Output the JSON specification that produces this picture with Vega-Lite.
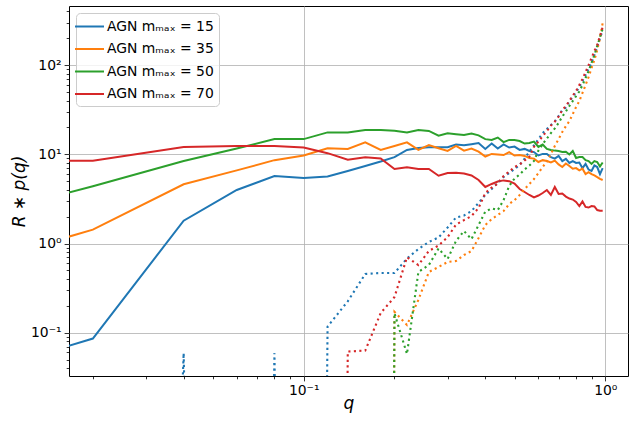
{
  "$schema": "https://vega.github.io/schema/vega-lite/v6.json",
  "autosize": {"type": "none"},
  "padding": {"left": 69, "top": 6, "right": 7, "bottom": 47},
  "width": 559,
  "height": 370,
  "datasets": {
    "solid": [
      {"m":15,"q":0.0166,"v":0.071},{"m":15,"q":0.02,"v":0.086},{"m":15,"q":0.04,"v":1.80},{"m":15,"q":0.06,"v":3.98},{"m":15,"q":0.08,"v":5.71},{"m":15,"q":0.10,"v":5.42},{"m":15,"q":0.12,"v":5.64},{"m":15,"q":0.14,"v":6.5},{"m":15,"q":0.16,"v":7.4},{"m":15,"q":0.18,"v":8.3},{"m":15,"q":0.20,"v":9.3},{"m":15,"q":0.22,"v":11.2},{"m":15,"q":0.24,"v":11.8},{"m":15,"q":0.26,"v":12.0},{"m":15,"q":0.28,"v":12.0},{"m":15,"q":0.30,"v":12.0},{"m":15,"q":0.32,"v":12.9},{"m":15,"q":0.34,"v":12.6},{"m":15,"q":0.36,"v":13.0},{"m":15,"q":0.38,"v":13.4},{"m":15,"q":0.40,"v":11.5},{"m":15,"q":0.42,"v":13.2},{"m":15,"q":0.44,"v":11.6},{"m":15,"q":0.46,"v":12.9},{"m":15,"q":0.48,"v":11.9},{"m":15,"q":0.50,"v":12.2},{"m":15,"q":0.52,"v":11.2},{"m":15,"q":0.54,"v":11.5},{"m":15,"q":0.56,"v":10.9},{"m":15,"q":0.58,"v":10.6},{"m":15,"q":0.60,"v":9.7},{"m":15,"q":0.62,"v":10.1},{"m":15,"q":0.64,"v":10.1},{"m":15,"q":0.66,"v":9.3},{"m":15,"q":0.68,"v":8.95},{"m":15,"q":0.70,"v":9.6},{"m":15,"q":0.72,"v":8.4},{"m":15,"q":0.74,"v":8.9},{"m":15,"q":0.76,"v":8.0},{"m":15,"q":0.78,"v":8.4},{"m":15,"q":0.80,"v":8.0},{"m":15,"q":0.82,"v":8.1},{"m":15,"q":0.84,"v":7.0},{"m":15,"q":0.86,"v":7.8},{"m":15,"q":0.88,"v":6.75},{"m":15,"q":0.90,"v":6.5},{"m":15,"q":0.92,"v":7.5},{"m":15,"q":0.94,"v":7.2},{"m":15,"q":0.96,"v":6.0},{"m":15,"q":0.98,"v":7.0},
      {"m":35,"q":0.0166,"v":1.19},{"m":35,"q":0.02,"v":1.43},{"m":35,"q":0.04,"v":4.61},{"m":35,"q":0.06,"v":6.6},{"m":35,"q":0.08,"v":8.6},{"m":35,"q":0.10,"v":9.7},{"m":35,"q":0.12,"v":11.7},{"m":35,"q":0.14,"v":11.5},{"m":35,"q":0.16,"v":13.6},{"m":35,"q":0.18,"v":11.2},{"m":35,"q":0.20,"v":12.4},{"m":35,"q":0.22,"v":13.6},{"m":35,"q":0.24,"v":11.2},{"m":35,"q":0.26,"v":12.7},{"m":35,"q":0.28,"v":11.7},{"m":35,"q":0.30,"v":10.9},{"m":35,"q":0.32,"v":12.4},{"m":35,"q":0.34,"v":11.0},{"m":35,"q":0.36,"v":11.6},{"m":35,"q":0.38,"v":10.7},{"m":35,"q":0.40,"v":9.45},{"m":35,"q":0.42,"v":10.1},{"m":35,"q":0.44,"v":9.95},{"m":35,"q":0.46,"v":9.8},{"m":35,"q":0.48,"v":10.6},{"m":35,"q":0.50,"v":9.7},{"m":35,"q":0.52,"v":9.8},{"m":35,"q":0.54,"v":9.6},{"m":35,"q":0.56,"v":9.1},{"m":35,"q":0.58,"v":8.95},{"m":35,"q":0.60,"v":8.2},{"m":35,"q":0.62,"v":8.6},{"m":35,"q":0.64,"v":8.4},{"m":35,"q":0.66,"v":8.1},{"m":35,"q":0.68,"v":8.5},{"m":35,"q":0.70,"v":7.7},{"m":35,"q":0.72,"v":7.2},{"m":35,"q":0.74,"v":7.9},{"m":35,"q":0.76,"v":7.4},{"m":35,"q":0.78,"v":6.9},{"m":35,"q":0.80,"v":7.0},{"m":35,"q":0.82,"v":6.6},{"m":35,"q":0.84,"v":6.9},{"m":35,"q":0.86,"v":6.0},{"m":35,"q":0.88,"v":6.3},{"m":35,"q":0.90,"v":6.0},{"m":35,"q":0.92,"v":5.8},{"m":35,"q":0.94,"v":5.55},{"m":35,"q":0.96,"v":5.3},{"m":35,"q":0.98,"v":5.15},
      {"m":50,"q":0.0166,"v":3.71},{"m":50,"q":0.02,"v":4.38},{"m":50,"q":0.04,"v":8.4},{"m":50,"q":0.06,"v":11.6},{"m":50,"q":0.08,"v":14.8},{"m":50,"q":0.10,"v":14.8},{"m":50,"q":0.12,"v":17.6},{"m":50,"q":0.14,"v":17.6},{"m":50,"q":0.16,"v":18.7},{"m":50,"q":0.18,"v":18.7},{"m":50,"q":0.20,"v":18.4},{"m":50,"q":0.22,"v":17.6},{"m":50,"q":0.24,"v":18.7},{"m":50,"q":0.26,"v":18.3},{"m":50,"q":0.28,"v":16.2},{"m":50,"q":0.30,"v":17.2},{"m":50,"q":0.32,"v":16.8},{"m":50,"q":0.34,"v":16.5},{"m":50,"q":0.36,"v":17.1},{"m":50,"q":0.38,"v":16.3},{"m":50,"q":0.40,"v":14.8},{"m":50,"q":0.42,"v":14.5},{"m":50,"q":0.44,"v":15.4},{"m":50,"q":0.46,"v":13.7},{"m":50,"q":0.48,"v":14.5},{"m":50,"q":0.50,"v":14.5},{"m":50,"q":0.52,"v":14.1},{"m":50,"q":0.54,"v":13.2},{"m":50,"q":0.56,"v":13.4},{"m":50,"q":0.58,"v":13.9},{"m":50,"q":0.60,"v":12.1},{"m":50,"q":0.62,"v":12.9},{"m":50,"q":0.64,"v":11.5},{"m":50,"q":0.66,"v":11.2},{"m":50,"q":0.68,"v":11.0},{"m":50,"q":0.70,"v":10.9},{"m":50,"q":0.72,"v":10.6},{"m":50,"q":0.74,"v":10.7},{"m":50,"q":0.76,"v":9.95},{"m":50,"q":0.78,"v":10.9},{"m":50,"q":0.80,"v":9.1},{"m":50,"q":0.82,"v":9.3},{"m":50,"q":0.84,"v":9.3},{"m":50,"q":0.86,"v":8.6},{"m":50,"q":0.88,"v":8.4},{"m":50,"q":0.90,"v":7.8},{"m":50,"q":0.92,"v":8.4},{"m":50,"q":0.94,"v":8.2},{"m":50,"q":0.96,"v":7.3},{"m":50,"q":0.98,"v":8.1},
      {"m":70,"q":0.0166,"v":8.48},{"m":70,"q":0.02,"v":8.48},{"m":70,"q":0.04,"v":12.1},{"m":70,"q":0.06,"v":12.4},{"m":70,"q":0.08,"v":12.4},{"m":70,"q":0.10,"v":11.9},{"m":70,"q":0.12,"v":10.3},{"m":70,"q":0.14,"v":8.7},{"m":70,"q":0.16,"v":9.25},{"m":70,"q":0.18,"v":8.97},{"m":70,"q":0.20,"v":6.84},{"m":70,"q":0.22,"v":7.15},{"m":70,"q":0.24,"v":6.84},{"m":70,"q":0.26,"v":6.84},{"m":70,"q":0.28,"v":5.75},{"m":70,"q":0.30,"v":6.17},{"m":70,"q":0.32,"v":6.22},{"m":70,"q":0.34,"v":6.1},{"m":70,"q":0.36,"v":5.8},{"m":70,"q":0.38,"v":5.15},{"m":70,"q":0.40,"v":4.3},{"m":70,"q":0.42,"v":4.65},{"m":70,"q":0.44,"v":4.95},{"m":70,"q":0.46,"v":5.1},{"m":70,"q":0.48,"v":5.0},{"m":70,"q":0.50,"v":4.7},{"m":70,"q":0.52,"v":4.08},{"m":70,"q":0.54,"v":3.78},{"m":70,"q":0.56,"v":3.5},{"m":70,"q":0.58,"v":3.28},{"m":70,"q":0.60,"v":3.45},{"m":70,"q":0.62,"v":3.68},{"m":70,"q":0.64,"v":3.98},{"m":70,"q":0.66,"v":3.5},{"m":70,"q":0.68,"v":4.3},{"m":70,"q":0.70,"v":3.59},{"m":70,"q":0.72,"v":3.64},{"m":70,"q":0.74,"v":3.36},{"m":70,"q":0.76,"v":3.19},{"m":70,"q":0.78,"v":3.11},{"m":70,"q":0.80,"v":2.92},{"m":70,"q":0.82,"v":2.63},{"m":70,"q":0.84,"v":2.96},{"m":70,"q":0.86,"v":2.57},{"m":70,"q":0.88,"v":2.53},{"m":70,"q":0.90,"v":2.63},{"m":70,"q":0.92,"v":2.6},{"m":70,"q":0.94,"v":2.37},{"m":70,"q":0.96,"v":2.33},{"m":70,"q":0.98,"v":2.33}
    ],
    "dotted": [
      {"m":15,"q":0.02,"v":1e-30},{"m":15,"q":0.04,"v":0.059},{"m":15,"q":0.06,"v":1e-30},{"m":15,"q":0.08,"v":0.059},{"m":15,"q":0.10,"v":1e-30},{"m":15,"q":0.12,"v":0.117},{"m":15,"q":0.14,"v":0.225},{"m":15,"q":0.16,"v":0.455},{"m":15,"q":0.18,"v":0.467},{"m":15,"q":0.20,"v":0.467},{"m":15,"q":0.22,"v":0.679},{"m":15,"q":0.24,"v":0.868},{"m":15,"q":0.26,"v":1.04},{"m":15,"q":0.28,"v":1.17},{"m":15,"q":0.30,"v":1.51},{"m":15,"q":0.32,"v":1.96},{"m":15,"q":0.34,"v":2.06},{"m":15,"q":0.36,"v":2.31},{"m":15,"q":0.38,"v":2.85},{"m":15,"q":0.40,"v":3.5},{"m":15,"q":0.42,"v":4.08},{"m":15,"q":0.44,"v":4.77},{"m":15,"q":0.46,"v":5.57},{"m":15,"q":0.48,"v":6.17},{"m":15,"q":0.50,"v":6.84},{"m":15,"q":0.52,"v":7.59},{"m":15,"q":0.54,"v":8.97},{"m":15,"q":0.56,"v":10.7},{"m":15,"q":0.58,"v":12.6},{"m":15,"q":0.60,"v":14.8},{"m":15,"q":0.62,"v":17.3},{"m":15,"q":0.64,"v":19.2},{"m":15,"q":0.66,"v":21.3},{"m":15,"q":0.68,"v":23.3},{"m":15,"q":0.70,"v":26.9},{"m":15,"q":0.72,"v":31.4},{"m":15,"q":0.74,"v":33.5},{"m":15,"q":0.76,"v":39.6},{"m":15,"q":0.78,"v":43.9},{"m":15,"q":0.80,"v":49.9},{"m":15,"q":0.82,"v":56.8},{"m":15,"q":0.84,"v":66.3},{"m":15,"q":0.86,"v":77.5},{"m":15,"q":0.88,"v":90.4},{"m":15,"q":0.90,"v":106},{"m":15,"q":0.92,"v":130},{"m":15,"q":0.94,"v":160},{"m":15,"q":0.96,"v":201},{"m":15,"q":0.98,"v":245},
      {"m":35,"q":0.18,"v":1e-30},{"m":35,"q":0.20,"v":0.171},{"m":35,"q":0.22,"v":0.122},{"m":35,"q":0.24,"v":0.233},{"m":35,"q":0.26,"v":0.479},{"m":35,"q":0.28,"v":0.545},{"m":35,"q":0.30,"v":0.62},{"m":35,"q":0.32,"v":0.637},{"m":35,"q":0.34,"v":0.743},{"m":35,"q":0.36,"v":0.824},{"m":35,"q":0.38,"v":1.15},{"m":35,"q":0.40,"v":1.61},{"m":35,"q":0.42,"v":1.88},{"m":35,"q":0.44,"v":2.09},{"m":35,"q":0.46,"v":2.31},{"m":35,"q":0.48,"v":2.77},{"m":35,"q":0.50,"v":3.07},{"m":35,"q":0.52,"v":3.5},{"m":35,"q":0.54,"v":4.08},{"m":35,"q":0.56,"v":4.65},{"m":35,"q":0.58,"v":5.28},{"m":35,"q":0.60,"v":6.17},{"m":35,"q":0.62,"v":7.2},{"m":35,"q":0.64,"v":8.3},{"m":35,"q":0.66,"v":10.1},{"m":35,"q":0.68,"v":12.4},{"m":35,"q":0.70,"v":14.8},{"m":35,"q":0.72,"v":17.8},{"m":35,"q":0.74,"v":20.7},{"m":35,"q":0.76,"v":23.6},{"m":35,"q":0.78,"v":28.3},{"m":35,"q":0.80,"v":33.9},{"m":35,"q":0.82,"v":39.6},{"m":35,"q":0.84,"v":48.7},{"m":35,"q":0.86,"v":59.8},{"m":35,"q":0.88,"v":73.5},{"m":35,"q":0.90,"v":92.8},{"m":35,"q":0.92,"v":114},{"m":35,"q":0.94,"v":148},{"m":35,"q":0.96,"v":201},{"m":35,"q":0.98,"v":297},
      {"m":50,"q":0.18,"v":1e-30},{"m":50,"q":0.20,"v":0.165},{"m":50,"q":0.22,"v":0.0577},{"m":50,"q":0.24,"v":0.479},{"m":50,"q":0.26,"v":0.574},{"m":50,"q":0.28,"v":0.879},{"m":50,"q":0.30,"v":0.67},{"m":50,"q":0.32,"v":1.07},{"m":50,"q":0.34,"v":1.38},{"m":50,"q":0.36,"v":1.12},{"m":50,"q":0.38,"v":1.61},{"m":50,"q":0.40,"v":2.28},{"m":50,"q":0.42,"v":2.47},{"m":50,"q":0.44,"v":2.37},{"m":50,"q":0.46,"v":3.07},{"m":50,"q":0.48,"v":4.41},{"m":50,"q":0.50,"v":5.35},{"m":50,"q":0.52,"v":5.94},{"m":50,"q":0.54,"v":6.76},{"m":50,"q":0.56,"v":7.49},{"m":50,"q":0.58,"v":8.41},{"m":50,"q":0.60,"v":11.0},{"m":50,"q":0.62,"v":13.0},{"m":50,"q":0.64,"v":15.0},{"m":50,"q":0.66,"v":17.3},{"m":50,"q":0.68,"v":19.5},{"m":50,"q":0.70,"v":22.5},{"m":50,"q":0.72,"v":26.5},{"m":50,"q":0.74,"v":30.2},{"m":50,"q":0.76,"v":34.8},{"m":50,"q":0.78,"v":39.6},{"m":50,"q":0.80,"v":45.0},{"m":50,"q":0.82,"v":50.6},{"m":50,"q":0.84,"v":59.8},{"m":50,"q":0.86,"v":71.7},{"m":50,"q":0.88,"v":85.8},{"m":50,"q":0.90,"v":106},{"m":50,"q":0.92,"v":130},{"m":50,"q":0.94,"v":164},{"m":50,"q":0.96,"v":205},{"m":50,"q":0.98,"v":255},
      {"m":70,"q":0.12,"v":1e-30},{"m":70,"q":0.14,"v":0.0615},{"m":70,"q":0.16,"v":0.063},{"m":70,"q":0.18,"v":0.166},{"m":70,"q":0.20,"v":0.251},{"m":70,"q":0.22,"v":0.70},{"m":70,"q":0.24,"v":0.574},{"m":70,"q":0.26,"v":0.824},{"m":70,"q":0.28,"v":0.95},{"m":70,"q":0.30,"v":1.18},{"m":70,"q":0.32,"v":1.63},{"m":70,"q":0.34,"v":1.83},{"m":70,"q":0.36,"v":2.03},{"m":70,"q":0.38,"v":2.5},{"m":70,"q":0.40,"v":3.68},{"m":70,"q":0.42,"v":4.24},{"m":70,"q":0.44,"v":4.7},{"m":70,"q":0.46,"v":5.71},{"m":70,"q":0.48,"v":6.41},{"m":70,"q":0.50,"v":7.2},{"m":70,"q":0.52,"v":7.69},{"m":70,"q":0.54,"v":8.52},{"m":70,"q":0.56,"v":9.4},{"m":70,"q":0.58,"v":12.1},{"m":70,"q":0.60,"v":13.9},{"m":70,"q":0.62,"v":16.0},{"m":70,"q":0.64,"v":18.2},{"m":70,"q":0.66,"v":21.0},{"m":70,"q":0.68,"v":23.3},{"m":70,"q":0.70,"v":26.5},{"m":70,"q":0.72,"v":31.4},{"m":70,"q":0.74,"v":34.8},{"m":70,"q":0.76,"v":39.6},{"m":70,"q":0.78,"v":45.6},{"m":70,"q":0.80,"v":51.3},{"m":70,"q":0.82,"v":59.8},{"m":70,"q":0.84,"v":69.8},{"m":70,"q":0.86,"v":83.7},{"m":70,"q":0.88,"v":100},{"m":70,"q":0.90,"v":120},{"m":70,"q":0.92,"v":144},{"m":70,"q":0.94,"v":168},{"m":70,"q":0.96,"v":212},{"m":70,"q":0.98,"v":267}
    ]
  },
  "encoding": {
    "x": {
      "field": "q", "type": "quantitative",
      "scale": {"type": "log", "domain": [0.01667, 1.189], "nice": false},
      "axis": {
        "title": "q",
        "values": [0.02,0.03,0.04,0.05,0.06,0.07,0.08,0.09,0.1,0.2,0.3,0.4,0.5,0.6,0.7,0.8,0.9,1],
        "labelExpr": "datum.value == 0.1 ? '10⁻¹' : datum.value == 1 ? '10⁰' : ''",
        "grid": true,
        "gridOpacity": {"condition": {"test": "datum.value == 0.1 || datum.value == 1", "value": 1}, "value": 0},
        "tickSize": {"condition": {"test": "datum.value == 0.1 || datum.value == 1", "value": 4.9}, "value": 2.8},
        "labelPadding": 3,
        "titlePadding": -2
      }
    },
    "y": {
      "field": "v", "type": "quantitative",
      "scale": {"type": "log", "domain": [0.0327, 460], "nice": false},
      "axis": {
        "title": "R ∗ p(q)",
        "values": [0.04,0.05,0.06,0.07,0.08,0.09,0.1,0.2,0.3,0.4,0.5,0.6,0.7,0.8,0.9,1,2,3,4,5,6,7,8,9,10,20,30,40,50,60,70,80,90,100,200,300,400],
        "labelExpr": "datum.value == 0.1 ? '10⁻¹' : datum.value == 1 ? '10⁰' : datum.value == 10 ? '10¹' : datum.value == 100 ? '10²' : ''",
        "grid": true,
        "gridOpacity": {"condition": {"test": "datum.value == 0.1 || datum.value == 1 || datum.value == 10 || datum.value == 100", "value": 1}, "value": 0},
        "tickSize": {"condition": {"test": "datum.value == 0.1 || datum.value == 1 || datum.value == 10 || datum.value == 100", "value": 4.9}, "value": 2.8},
        "labelPadding": 3,
        "titlePadding": 2
      }
    }
  },
  "layer": [
    {
      "data": {"name": "solid"},
      "mark": {"type": "line", "strokeWidth": 2, "clip": true},
      "encoding": {
        "color": {
          "field": "m", "type": "nominal",
          "scale": {"domain": [15, 35, 50, 70], "range": ["#1f77b4", "#ff7f0e", "#2ca02c", "#d62728"]},
          "legend": {
            "title": null,
            "orient": "top-left",
            "offset": 7,
            "labelExpr": "'AGN mₘₐₓ = ' + datum.label",
            "symbolType": "M-2,0H2",
            "symbolSize": 210,
            "symbolStrokeWidth": 2,
            "labelOffset": 9,
            "rowPadding": 6.5,
            "padding": 5
          }
        }
      }
    },
    {
      "data": {"name": "dotted"},
      "mark": {"type": "line", "strokeWidth": 2.1, "strokeDash": [2.1, 3.4], "clip": true},
      "encoding": {
        "color": {
          "field": "m", "type": "nominal",
          "scale": {"domain": [15, 35, 50, 70], "range": ["#1f77b4", "#ff7f0e", "#2ca02c", "#d62728"]},
          "legend": null
        }
      }
    }
  ],
  "config": {
    "font": "DejaVu Sans",
    "view": {"stroke": "#000", "strokeWidth": 1},
    "axis": {
      "domain": false,
      "labelFont": "DejaVu Sans", "labelFontSize": 13.9, "labelColor": "#000",
      "labelOverlap": false, "labelFlush": false,
      "tickColor": "#000", "tickWidth": 0.8,
      "gridColor": "#b0b0b0", "gridWidth": 0.8,
      "titleFont": "DejaVu Sans", "titleFontSize": 17, "titleFontStyle": "italic", "titleFontWeight": "normal", "titleColor": "#000"
    },
    "legend": {
      "labelFont": "DejaVu Sans", "labelFontSize": 13.9, "labelColor": "#000",
      "fillColor": "rgba(255,255,255,0.8)", "strokeColor": "#cccccc", "cornerRadius": 4
    }
  }
}
